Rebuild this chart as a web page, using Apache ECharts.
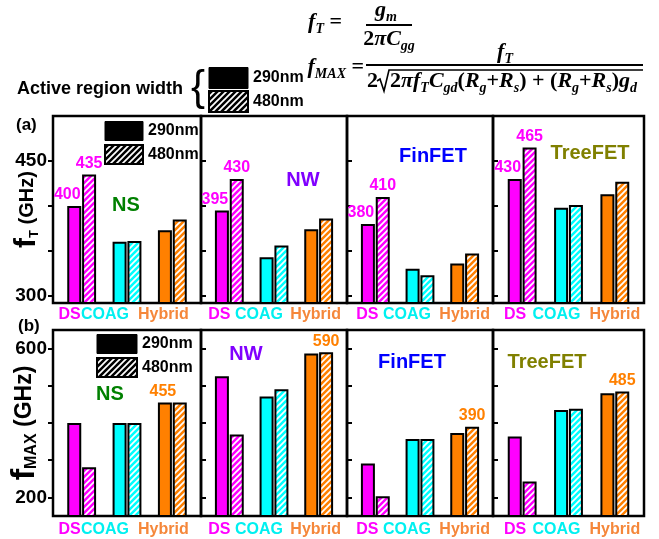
<!DOCTYPE html>
<html>
<head>
<meta charset="utf-8" />
<title>fT and fMAX by device</title>
<script src="https://cdn.jsdelivr.net/npm/echarts@6/dist/echarts.min.js"></script>
</head>
<body style="margin:0">
<div id="main" style="width:659px;height:539px"></div>
<script>
// devices, bar groups and active region widths
var panels = ["NS", "NW", "FinFET", "TreeFET"];
var categories = ["DS", "COAG", "Hybrid"];
var widths = ["290nm", "480nm"];

// fT (GHz), one row per device: DS, COAG, Hybrid
var fT290 = [[400, 360, 373], [395, 343, 374], [380, 330, 336], [430, 398, 413]];
var fT480 = [[435, 361, 385], [430, 356, 386], [410, 323, 347], [465, 401, 427]];
// fMAX (GHz)
var fMAX290 = [[400, 400, 455], [526, 471, 587], [291, 357, 373], [364, 435, 480]];
var fMAX480 = [[281, 400, 455], [369, 491, 590], [203, 357, 390], [243, 438, 485]];

// which bar gets a value label in each device
var fTLabelled290 = ["DS", "DS", "DS", "DS"];
var fTLabelled480 = ["DS", "DS", "DS", "DS"];
var fMAXLabelled290 = ["Hybrid", null, null, null];
var fMAXLabelled480 = [null, "Hybrid", "Hybrid", "Hybrid"];

// axis ticks
var fTRange = [292, 500];
var fTTicks = [300, 350, 400, 450];
var fTTickLabels = [300, 450];
var fMAXRange = [150, 650];
var fMAXTicks = [200, 300, 400, 500, 600];
var fMAXTickLabels = [200, 600];

var catColors = ["#ff00ff", "#00ffff", "#ff8000"];
var catTextColors = ["#ff00ff", "#00f0f0", "#f5873a"];
var panelColors = ["#008000", "#8000ff", "#0000ff", "#808000"];

// category names are written a bit left of their bars (px, per panel)
var catLabelShift = [[-12, -22, -9], [-10, -15, -3], [-8, -13, 0], [-7, -12, 0]];

// hatched fill: colour with white "/" stripes
function hatch(color) {
  var c = document.createElement("canvas");
  c.width = 6;
  c.height = 6;
  var g = c.getContext("2d");
  g.fillStyle = color;
  g.fillRect(0, 0, 6, 6);
  g.strokeStyle = "#fff";
  g.lineWidth = 1.7;
  g.beginPath();
  g.moveTo(-1, 1); g.lineTo(1, -1);
  g.moveTo(-1, 7); g.lineTo(7, -1);
  g.moveTo(5, 7); g.lineTo(7, 5);
  g.stroke();
  return { image: c, repeat: "repeat" };
}

var rows = [
  { top: 116, height: 187, v290: fT290, v480: fT480, lab290: fTLabelled290, lab480: fTLabelled480,
    range: fTRange, ticks: fTTicks, tickLabels: fTTickLabels, labelColor: "#ff00ff", offset290: [-7, 0], xMargin: 4,
    name: "{f|f}{s|T}{g| (GHz)}", nameGap: 12,
    rich: { f: { fontSize: 30, fontWeight: "bold", lineHeight: 28 },
            s: { fontSize: 13, fontWeight: "bold", lineHeight: 13, verticalAlign: "bottom" },
            g: { fontSize: 20, fontWeight: "bold" } } },
  { top: 330, height: 186, v290: fMAX290, v480: fMAX480, lab290: fMAXLabelled290, lab480: fMAXLabelled480,
    range: fMAXRange, ticks: fMAXTicks, tickLabels: fMAXTickLabels, labelColor: "#ff8000", offset290: [-2, 0], xMargin: 6,
    name: "{f|f}{s|MAX}{g| (GHz)}", nameGap: 13,
    rich: { f: { fontSize: 34, fontWeight: "bold", lineHeight: 30 },
            s: { fontSize: 16, fontWeight: "bold", lineHeight: 16, verticalAlign: "bottom" },
            g: { fontSize: 23, fontWeight: "bold" } } }
];
var edgesX = [53, 201, 347, 493, 644];

function catRich(p) {
  var rich = {};
  categories.forEach(function (c, i) {
    var s = catLabelShift[p][i];
    rich[c] = { color: catTextColors[i], fontSize: 16, fontWeight: "bold",
                padding: [0, s < 0 ? -2 * s : 0, 0, s > 0 ? 2 * s : 0] };
  });
  return rich;
}

var grids = [], xAxes = [], yAxes = [], series = [];

rows.forEach(function (row, r) {
  panels.forEach(function (dev, p) {
    var left = edgesX[p];
    var w = edgesX[p + 1] - edgesX[p];
    // frame with y ticks
    var fi = grids.length;
    grids.push({ left: left, top: row.top, width: w, height: row.height, show: true,
                 borderColor: "#000", borderWidth: 2.5, outerBoundsMode: "none" });
    xAxes.push({ gridIndex: fi, type: "value", min: 0, max: 1, show: false });
    yAxes.push({
      gridIndex: fi, type: "value", min: row.range[0], max: row.range[1],
      axisLine: { show: false }, splitLine: { show: false },
      axisTick: { show: true, inside: p > 0, length: 5, customValues: row.ticks,
                  lineStyle: { color: "#000", width: 2 } },
      axisLabel: { show: p === 0, customValues: row.tickLabels, margin: 6,
                   fontSize: 19, fontWeight: "bold", color: "#000" },
      name: p === 0 ? row.name : "", nameLocation: "middle", nameGap: row.nameGap,
      nameMoveOverlap: false,
      nameTextStyle: { color: "#000", rich: row.rich }
    });
    // bars
    var di = grids.length;
    grids.push({ left: left + 6, top: row.top, width: w - 12, height: row.height, outerBoundsMode: "none" });
    xAxes.push({
      gridIndex: di, type: "category", data: categories,
      axisLine: { show: false }, axisTick: { show: false },
      axisLabel: {
        interval: 0, margin: row.xMargin,
        formatter: function (v) { return "{" + v + "|" + v + "}"; },
        rich: catRich(p)
      }
    });
    yAxes.push({ gridIndex: di, type: "value", min: row.range[0], max: row.range[1], show: false });

    [row.v290, row.v480].forEach(function (vals, k) {
      var labelled = k === 0 ? row.lab290[p] : row.lab480[p];
      series.push({
        type: "bar", name: widths[k], xAxisIndex: di, yAxisIndex: di,
        barWidth: 14, barGap: "6%", silent: true,
        itemStyle: { borderColor: "#000", borderWidth: 2 },
        label: { show: false, position: "top", distance: 3, fontSize: 16, fontWeight: "bold",
                 color: row.labelColor, offset: k === 0 ? row.offset290 : [0, 0] },
        data: categories.map(function (c, i) {
          return {
            value: vals[p][i],
            itemStyle: { color: k === 0 ? catColors[i] : hatch(catColors[i]) },
            label: { show: labelled === c }
          };
        })
      });
    });
  });
});

function legendItems() {
  return [
    { name: "290nm", itemStyle: { color: "#000", borderColor: "#000", borderWidth: 1 } },
    { name: "480nm", itemStyle: { color: hatch("#000"), borderColor: "#000", borderWidth: 2 } }
  ];
}
var legendText = { fontSize: 16, fontWeight: "bold", color: "#000" };

var titlePos = [
  [[126, 205], [303, 180], [433, 156], [590, 153]],
  [[110, 394], [246, 354], [412, 362], [547, 362]]
];

var mathFont = "Liberation Serif";
var mathRich = {
  i: { fontFamily: mathFont, fontStyle: "italic", fontWeight: "bold", fontSize: 22, lineHeight: 28 },
  u: { fontFamily: mathFont, fontWeight: "bold", fontSize: 22, lineHeight: 28 },
  s: { fontFamily: mathFont, fontStyle: "italic", fontWeight: "bold", fontSize: 14, lineHeight: 14, verticalAlign: "bottom" }
};
function math(text, x, y, align) {
  return { type: "text", x: x, y: y,
           style: { text: text, rich: mathRich, fill: "#000", align: align, verticalAlign: "middle" } };
}

var graphic = [
  { type: "text", x: 16, y: 125, style: { text: "(a)", font: "bold 17px Liberation Sans", fill: "#000", verticalAlign: "middle" } },
  { type: "text", x: 18, y: 326, style: { text: "(b)", font: "bold 17px Liberation Sans", fill: "#000", verticalAlign: "middle" } },
  { type: "text", x: 17, y: 89, style: { text: "Active region width", font: "bold 18px Liberation Sans", fill: "#000", verticalAlign: "middle" } },
  { type: "text", x: 191, y: 88, style: { text: "{", font: "42px Liberation Sans", fill: "#000", verticalAlign: "middle" } },
  math("{i|f}{s|T}{u| =}", 342, 22, "right"),
  math("{i|g}{s|m}", 386, 10, "center"),
  { type: "line", shape: { x1: 366, y1: 25, x2: 412, y2: 25 }, style: { stroke: "#000", lineWidth: 2 } },
  math("{u|2}{i|πC}{s|gg}", 389, 39, "center"),
  math("{i|f}{s|MAX}{u| =}", 364, 67, "right"),
  math("{i|f}{s|T}", 505, 52, "center"),
  { type: "line", shape: { x1: 366, y1: 65, x2: 643, y2: 65 }, style: { stroke: "#000", lineWidth: 2 } },
  math("{u|2}", 367, 81, "left"),
  { type: "polyline", shape: { points: [[377, 81], [380, 79], [384, 91], [389, 70], [643, 70]] },
    style: { stroke: "#000", lineWidth: 1.6, fill: null } },
  math("{u|2}{i|πf}{s|T}{i|C}{s|gd}{u|(}{i|R}{s|g}{u|+}{i|R}{s|s}{u|) + (}{i|R}{s|g}{u|+}{i|R}{s|s}{u|)}{i|g}{s|d}", 390, 81, "left")
];
titlePos.forEach(function (rowPos, r) {
  rowPos.forEach(function (pos, p) {
    graphic.push({ type: "text", x: pos[0], y: pos[1],
      style: { text: panels[p], font: "bold 20px Liberation Sans", fill: panelColors[p],
               align: "center", verticalAlign: "middle" } });
  });
});

var chart = echarts.init(document.getElementById("main"));
chart.setOption({
  animation: false,
  backgroundColor: "#fff",
  textStyle: { fontFamily: "Liberation Sans, Arial, sans-serif" },
  legend: [
    { left: 104, top: 121, padding: 0, orient: "vertical", icon: "rect", itemWidth: 38, itemHeight: 19, itemGap: 3,
      selectedMode: false, textStyle: legendText, data: legendItems() },
    { left: 96, top: 334, padding: 0, orient: "vertical", icon: "rect", itemWidth: 40, itemHeight: 19, itemGap: 3,
      selectedMode: false, textStyle: legendText, data: legendItems() },
    { left: 208, top: 67, padding: 0, orient: "vertical", icon: "rect", itemWidth: 39, itemHeight: 21, itemGap: 1,
      selectedMode: false, textStyle: legendText, data: legendItems() }
  ],
  grid: grids,
  xAxis: xAxes,
  yAxis: yAxes,
  series: series,
  graphic: graphic
});
</script>
</body>
</html>
